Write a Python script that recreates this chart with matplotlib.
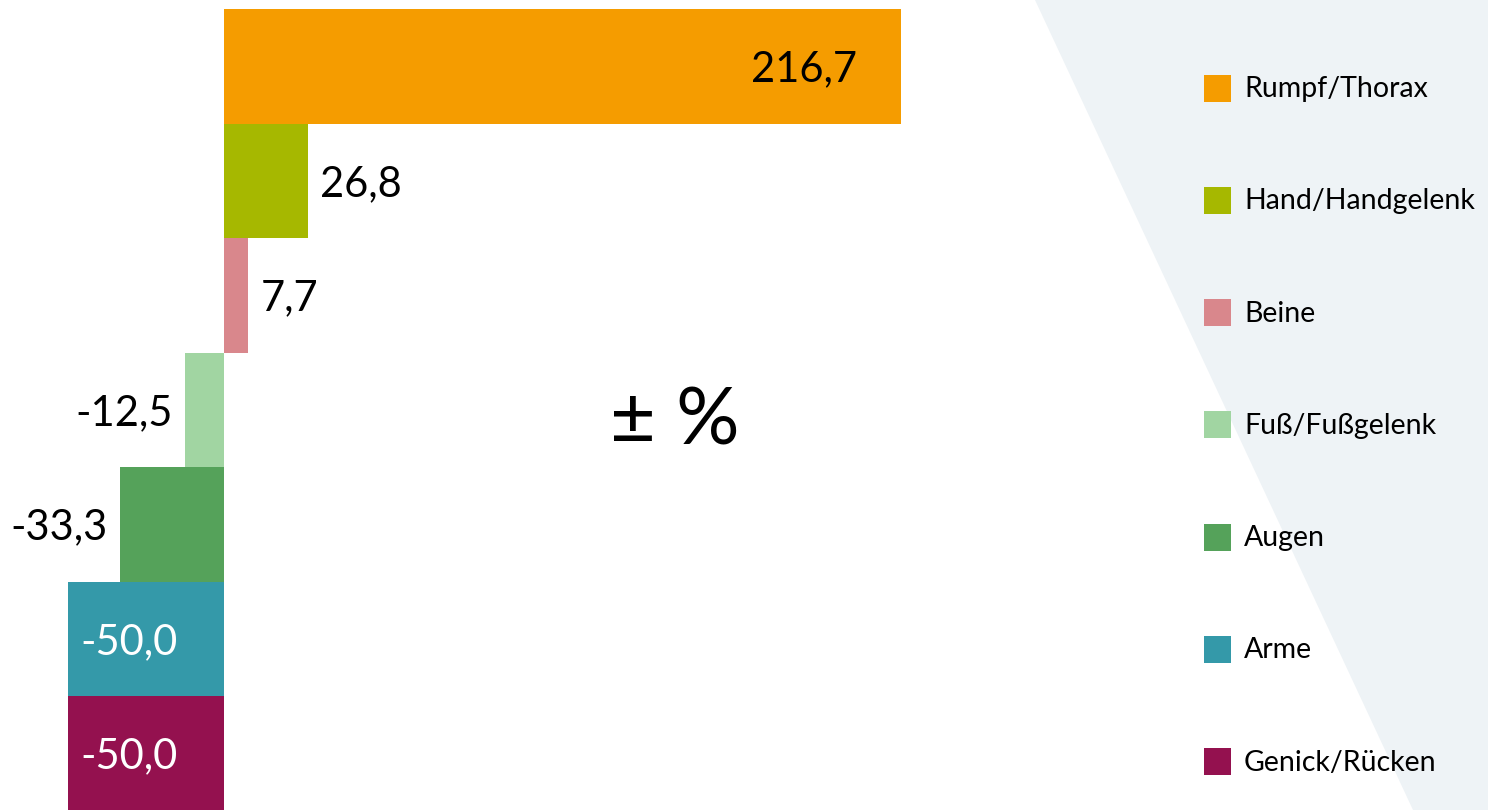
import matplotlib
matplotlib.use("Agg")
import matplotlib.pyplot as plt
from matplotlib.patches import Polygon, Rectangle

plt.rcParams['font.family'] = ['Lato', 'DejaVu Sans']

# data (top to bottom)
categories = ["Rumpf/Thorax", "Hand/Handgelenk", "Beine", "Fuß/Fußgelenk",
              "Augen", "Arme", "Genick/Rücken"]
values = [216.7, 26.8, 7.7, -12.5, -33.3, -50.0, -50.0]
colors = ["#F59C00", "#A6B800", "#D9878C", "#A1D5A2", "#55A25A", "#3499A9", "#94114F"]

W, H = 1488, 810
fig = plt.figure(figsize=(W / 100, H / 100), dpi=100)

# background wedge on the right
bg = Polygon([(1035 / W, 1), (W / W, 1), (1, 0), (1413 / W, 0)],
             closed=True, transform=fig.transFigure, facecolor="#EEF3F6",
             edgecolor="none", zorder=0)
fig.patches.append(bg)

ax = fig.add_axes([0, 0, 1, 1])
ax.patch.set_alpha(0)
px_x = 3.124   # pixels per unit
px_y = 114.5   # pixels per bar
ax.set_xlim(-224 / px_x, (W - 224) / px_x)
ax.set_ylim(6.5 + (H - 810.5) / px_y, -0.5 - 9 / px_y)
ax.axis("off")

ypos = list(range(len(values)))
ax.barh(ypos, values, height=1.0, color=colors, zorder=2)

fmt = lambda v: f"{v:.1f}".replace(".", ",")
fs = 30
dy = 0.03
for y, v in zip(ypos, values):
    s = fmt(v)
    if v > 100:
        ax.text(v - 14, y + dy, s, ha="right", va="center", fontsize=fs, color="black")
    elif v <= -50:
        ax.text(v + 4, y + dy, s, ha="left", va="center", fontsize=fs, color="white")
    elif v > 0:
        ax.text(v + 4, y + dy, s, ha="left", va="center", fontsize=fs, color="black")
    else:
        ax.text(v - 4, y + dy, s, ha="right", va="center", fontsize=fs, color="black")

fig.text(675 / W, 1 - 422 / H, "± %", ha="center", va="center", fontsize=57)

# legend
for i, (c, lab) in enumerate(zip(colors, categories)):
    yc = 88 + i * 112.3
    fig.patches.append(Rectangle((1204 / W, 1 - (yc + 13.5) / H), 27 / W, 27 / H,
                                 transform=fig.transFigure, facecolor=c,
                                 edgecolor="none", zorder=3))
    fig.text(1244 / W, 1 - (yc + 1) / H, lab, ha="left", va="center", fontsize=20.5)

fig.savefig("out.png", dpi=100)
